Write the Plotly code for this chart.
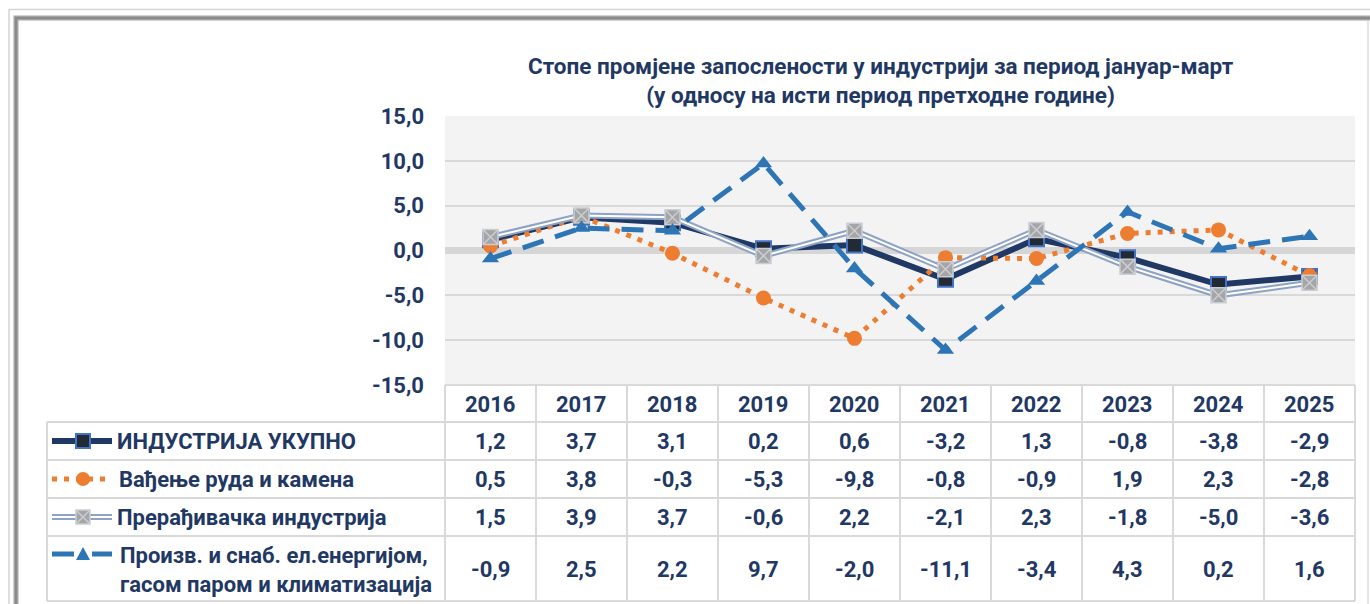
import plotly.graph_objects as go

# ---------------- data ----------------
years = [2016, 2017, 2018, 2019, 2020, 2021, 2022, 2023, 2024, 2025]
series_names = [
    "ИНДУСТРИЈА УКУПНО",
    "Вађење руда и камена",
    "Прерађивачка индустрија",
    "Произв. и снаб. ел.енергијом,<br>гасом паром и климатизација",
]
industry_total = [1.2, 3.7, 3.1, 0.2, 0.6, -3.2, 1.3, -0.8, -3.8, -2.9]
mining = [0.5, 3.8, -0.3, -5.3, -9.8, -0.8, -0.9, 1.9, 2.3, -2.8]
manufacturing = [1.5, 3.9, 3.7, -0.6, 2.2, -2.1, 2.3, -1.8, -5.0, -3.6]
energy = [-0.9, 2.5, 2.2, 9.7, -2.0, -11.1, -3.4, 4.3, 0.2, 1.6]
y_ticks = [-15, -10, -5, 0, 5, 10, 15]
title_text = ("Стопе промјене запослености у индустрији за период јануар-март<br>"
              "(у односу на исти период претходне године)")

# ---------------- layout constants ----------------
W, H = 1370, 604
L, R, T, B = 445, 15, 116, 219
PW, PH = W - L - R, H - T - B
NAVY = "#1f3864"
FONT = "Roboto"
FS = 22


def px(x):
    return (x - L) / PW


def py(y):
    return (T + PH - y) / PH


def fmt(v):
    return f"{v:.1f}".replace(".", ",")


fig = go.Figure()

# ---- main series ----
fig.add_trace(go.Scatter(
    x=years, y=industry_total, mode="lines+markers", name=series_names[0],
    line=dict(color=NAVY, width=6),
    marker=dict(symbol="square", size=15, color="#222a35",
                line=dict(color="#4472c4", width=2)),
    showlegend=False))
fig.add_trace(go.Scatter(
    x=years, y=mining, mode="lines+markers", name=series_names[1],
    line=dict(color="#ed7d31", width=5, dash="5px,7px"),
    marker=dict(symbol="circle", size=15, color="#ed7d31"),
    showlegend=False))
fig.add_trace(go.Scatter(
    x=years, y=manufacturing, mode="lines", name=series_names[2],
    line=dict(color="#8ea2c4", width=6),
    showlegend=False, hoverinfo="skip"))
fig.add_trace(go.Scatter(
    x=years, y=manufacturing, mode="lines+markers", name=series_names[2],
    line=dict(color="white", width=2),
    marker=dict(symbol="square-x", size=15, color="#a5a5a5",
                line=dict(color="#c9cdd4", width=1.5)),
    showlegend=False))
fig.add_trace(go.Scatter(
    x=years, y=energy, mode="lines+markers", name=series_names[3],
    line=dict(color="#2e75b6", width=5, dash="22px,12px"),
    marker=dict(symbol="triangle-up", size=15, color="#2e75b6"),
    showlegend=False))

shapes = []


def hline(x0, x1, y, color, width, dash="solid"):
    shapes.append(dict(type="line", xref="paper", yref="paper",
                       x0=px(x0), x1=px(x1), y0=py(y), y1=py(y),
                       line=dict(color=color, width=width, dash=dash)))


def vline(x, y0, y1, color, width):
    shapes.append(dict(type="line", xref="paper", yref="paper",
                       x0=px(x), x1=px(x), y0=py(y0), y1=py(y1),
                       line=dict(color=color, width=width)))


# ---- legend keys (decoration in pixel positions) ----
row_y = [441, 479, 517, 554]
kx0, kx1, kc = 52, 112, 83
hline(kx0, kx1, row_y[0], NAVY, 6)
hline(kx0, kx1, row_y[1], "#ed7d31", 5, "5px,7px")
hline(kx0, kx1, row_y[2], "#8ea2c4", 6)
hline(kx0, kx1, row_y[2], "white", 2)
hline(kx0, 74, row_y[3], "#2e75b6", 5)
hline(92, kx1, row_y[3], "#2e75b6", 5)
s = 7
shapes.append(dict(type="rect", xref="paper", yref="paper",
                   x0=px(kc - s), x1=px(kc + s), y0=py(row_y[0] - s), y1=py(row_y[0] + s),
                   fillcolor="#222a35", line=dict(color="#4472c4", width=2)))
shapes.append(dict(type="circle", xref="paper", yref="paper",
                   x0=px(kc - s), x1=px(kc + s), y0=py(row_y[1] - s), y1=py(row_y[1] + s),
                   fillcolor="#ed7d31", line=dict(width=0)))
shapes.append(dict(type="rect", xref="paper", yref="paper",
                   x0=px(kc - s), x1=px(kc + s), y0=py(row_y[2] - s), y1=py(row_y[2] + s),
                   fillcolor="#a5a5a5", line=dict(color="#c9cdd4", width=1.5)))
shapes.append(dict(type="path", xref="paper", yref="paper",
                   path=(f"M {px(kc - s)},{py(row_y[2] - s)} L {px(kc + s)},{py(row_y[2] + s)} "
                         f"M {px(kc - s)},{py(row_y[2] + s)} L {px(kc + s)},{py(row_y[2] - s)}"),
                   line=dict(color="#c9cdd4", width=1.5)))
shapes.append(dict(type="path", xref="paper", yref="paper",
                   path=(f"M {px(kc - 7)},{py(row_y[3] + 6)} L {px(kc + 7)},{py(row_y[3] + 6)} "
                         f"L {px(kc)},{py(row_y[3] - 7)} Z"),
                   fillcolor="#2e75b6", line=dict(width=0)))

# ---- data table grid ----
GRID = "#d9d9d9"
tb_top, tb_rows = 385, [422, 460, 498, 536, 601]
tb_left = 47
hline(L, L + PW, tb_top, GRID, 2)
for yy in tb_rows:
    hline(tb_left, L + PW, yy, GRID, 2)
vline(tb_left, tb_rows[0], tb_rows[-1], GRID, 2)
for k in range(11):
    xk = L + PW * k / 10
    vline(xk, tb_top, tb_rows[-1], GRID, 2)

# ---- outer chart frame ----
shapes.append(dict(type="path", xref="paper", yref="paper",
                   path=f"M {px(9)},{py(700)} L {px(9)},{py(9.5)} L {px(1375)},{py(9.5)}",
                   line=dict(color="#d4d4d4", width=1.5)))
shapes.append(dict(type="path", xref="paper", yref="paper",
                   path=f"M {px(16)},{py(700)} L {px(16)},{py(18)} L {px(1375)},{py(18)}",
                   line=dict(color="#a3a3a3", width=5)))
shapes.append(dict(type="path", xref="paper", yref="paper",
                   path=f"M {px(16)},{py(700)} L {px(16)},{py(18)} L {px(1375)},{py(18)}",
                   line=dict(color="#8a8a8a", width=2)))
vline(1368, 21, 700, "#dcdcdc", 1.5)

# ---- annotations ----
ann = []
ann.append(dict(text=title_text, xref="paper", yref="paper", x=px(881), y=py(81),
                xanchor="center", yanchor="middle", showarrow=False,
                font=dict(family=FONT, size=22.5, color=NAVY, weight="bold")))
row_centers = [404, 441, 479, 517, 570]
for i, yr in enumerate(years):
    cx = (i + 0.5) / 10
    ann.append(dict(text=str(yr), xref="paper", yref="paper", x=cx, y=py(row_centers[0]),
                    showarrow=False, xanchor="center", yanchor="middle",
                    font=dict(family=FONT, size=FS, color=NAVY, weight="bold")))
    for r, vals in enumerate([industry_total, mining, manufacturing, energy]):
        ann.append(dict(text=fmt(vals[i]), xref="paper", yref="paper", x=cx,
                        y=py(row_centers[r + 1] if r < 3 else 569), showarrow=False,
                        xanchor="center", yanchor="middle",
                        font=dict(family=FONT, size=FS, color=NAVY, weight="bold")))
label_x = [115, 117, 115, 118]
for r, name in enumerate(series_names):
    ann.append(dict(text=name, xref="paper", yref="paper", x=px(label_x[r]),
                    y=py(row_centers[r + 1]), showarrow=False,
                    xanchor="left", yanchor="middle", align="left",
                    font=dict(family=FONT, size=FS, color=NAVY, weight="bold")))

fig.update_layout(
    width=W, height=H,
    margin=dict(l=L, r=R, t=T, b=B, pad=0),
    paper_bgcolor="white", plot_bgcolor="#f3f3f3",
    separators=", ",
    shapes=shapes, annotations=ann,
    xaxis=dict(range=[years[0] - 0.5, years[-1] + 0.5], showgrid=False,
               showticklabels=False, zeroline=False, ticks="", fixedrange=True),
    yaxis=dict(range=[-15, 15], tickvals=y_ticks, ticktext=[fmt(v) for v in y_ticks],
               showgrid=True, gridcolor=GRID, gridwidth=2,
               zeroline=True, zerolinecolor="#d6d6d6", zerolinewidth=7,
               ticks="", ticklabelstandoff=20,
               tickfont=dict(family=FONT, size=FS, color=NAVY, weight="bold")),
)

fig.write_html("out.html", config={"displayModeBar": False},
               post_script="document.body.style.margin='0';")
